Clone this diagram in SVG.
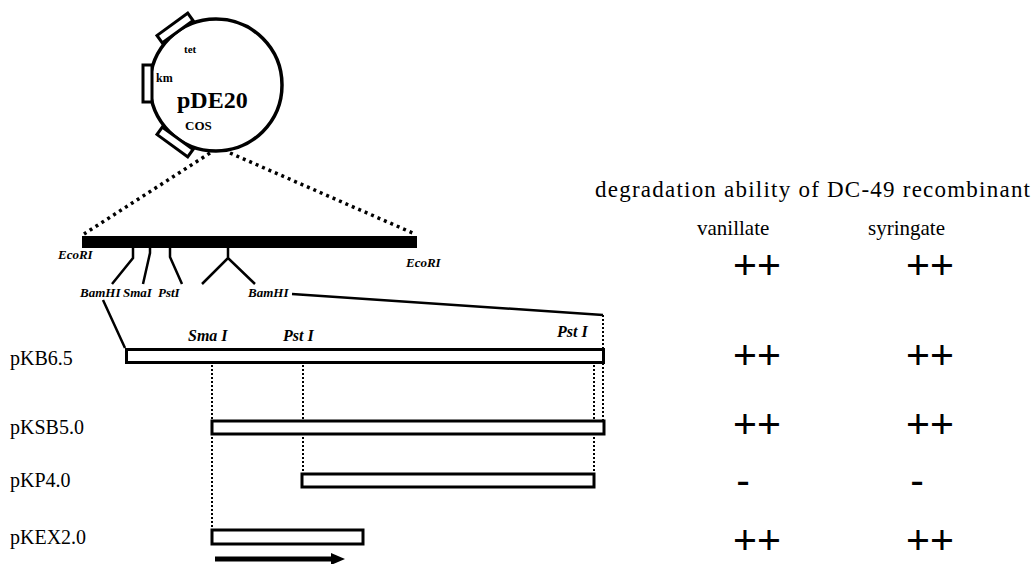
<svg xmlns="http://www.w3.org/2000/svg" width="1034" height="564" viewBox="0 0 1034 564">
<style>
.ser{font-family:"Liberation Serif","Times New Roman",serif;fill:#000}
.bi{font-family:"Liberation Serif","Times New Roman",serif;font-weight:bold;font-style:italic;fill:#000}
.pl{font-family:"Liberation Sans",Arial,sans-serif;font-size:41px;fill:#000;text-anchor:middle}
.box{fill:#fff;stroke:#000;stroke-width:3}
.ln{fill:none;stroke:#000;stroke-width:2.5}
.dot{fill:none;stroke:#000;stroke-width:2;stroke-dasharray:2,2}
.bigdot{fill:none;stroke:#000;stroke-width:3.5;stroke-dasharray:3,4}
</style>
<rect width="1034" height="564" fill="#fff"/>
<g id="plasmid">
<circle cx="216" cy="85" r="66" fill="none" stroke="#000" stroke-width="3.5"/>
<rect x="-19" y="-4.5" width="38" height="9" class="box" transform="translate(175,28) rotate(-36)"/>
<rect x="143" y="65" width="9" height="37" class="box"/>
<rect x="-19" y="-4.5" width="38" height="9" class="box" transform="translate(175,142) rotate(36)"/>
<text x="184" y="53" class="ser" font-size="11" font-weight="bold">tet</text>
<text x="156" y="82" class="ser" font-size="12" font-weight="bold">km</text>
<text x="177" y="108" class="ser" font-size="24" font-weight="bold">pDE20</text>
<text x="185" y="130" class="ser" font-size="13" font-weight="bold">COS</text>
</g>
<g id="insert">
<rect x="82" y="236" width="335" height="12" fill="#000"/>
<text x="58" y="259" class="bi" font-size="13">EcoRI</text>
<text x="406" y="267" class="bi" font-size="13">EcoRI</text>
<text x="80" y="297" class="bi" font-size="13">BamHI</text>
<text x="123" y="297" class="bi" font-size="13">SmaI</text>
<text x="158" y="297" class="bi" font-size="13">PstI</text>
<text x="248" y="297" class="bi" font-size="13">BamHI</text>
</g>
<g id="connectors">
<path class="bigdot" d="M210,153 L84,234 M230,153 L415,234"/>
<path class="ln" d="M133,248 V258 L112,284 M150,248 V253 L143,284 M170,248 V257 L182,284 M228,248 V258 M202,284 L228,258 L255,284"/>
<path class="ln" stroke-width="2" d="M292,294 L603,315 M103,300 L125,348"/>
<path class="dot" d="M603,315 V420 M594,349 V473 M212,349 V529 M303,349 V473"/>
</g>
<g id="pKB6.5">
<rect x="126.5" y="349.5" width="477" height="13" class="box"/>
<text x="10" y="365" class="ser" font-size="20">pKB6.5</text>
<text x="188" y="341" class="bi" font-size="16">Sma I</text>
<text x="283" y="341" class="bi" font-size="16">Pst I</text>
<text x="557" y="337" class="bi" font-size="16">Pst I</text>
</g>
<g id="pKSB5.0">
<rect x="212" y="421" width="392" height="13" class="box"/>
<text x="10" y="434" class="ser" font-size="20">pKSB5.0</text>
</g>
<g id="pKP4.0">
<rect x="302" y="474" width="292" height="13" class="box"/>
<text x="10" y="487" class="ser" font-size="20">pKP4.0</text>
</g>
<g id="pKEX2.0">
<rect x="212" y="530" width="151" height="14" class="box"/>
<text x="10" y="544" class="ser" font-size="20">pKEX2.0</text>
<path d="M215,559 H333" stroke="#000" stroke-width="5"/>
<polygon points="331,553 345,559 331,565" fill="#000"/>
</g>
<g id="table">
<text x="595" y="197" class="ser" font-size="23" textLength="435" lengthAdjust="spacing">degradation ability of DC-49 recombinant</text>
<text x="697" y="235" class="ser" font-size="21">vanillate</text>
<text x="868" y="235" class="ser" font-size="21">syringate</text>
<text x="757" y="279" class="pl">++</text>
<text x="930" y="279" class="pl">++</text>
<text x="757" y="369" class="pl">++</text>
<text x="930" y="369" class="pl">++</text>
<text x="757" y="438" class="pl">++</text>
<text x="930" y="438" class="pl">++</text>
<text x="743" y="494" class="pl" font-size="30">-</text>
<text x="917" y="494" class="pl" font-size="30">-</text>
<text x="757" y="554" class="pl">++</text>
<text x="930" y="554" class="pl">++</text>
</g>
</svg>
